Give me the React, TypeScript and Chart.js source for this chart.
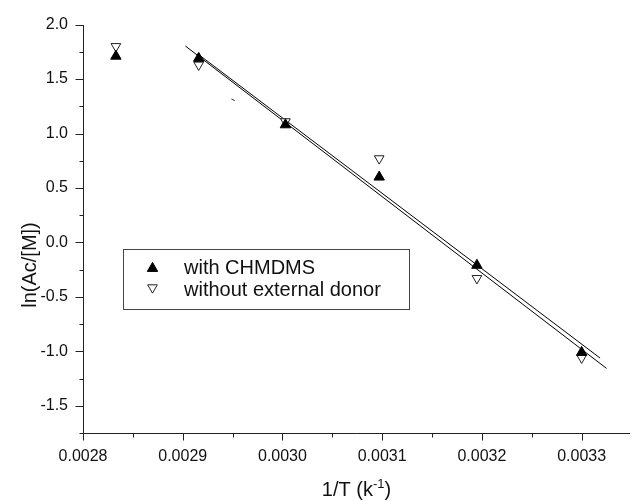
import React, { useEffect, useRef } from 'react';
import { Chart, registerables } from 'chart.js';

Chart.register(...registerables);

// Reciprocal temperature (1/K) of each measurement
const inverseT = [0.002833, 0.002916, 0.003003, 0.003097, 0.003195, 0.0033];
// ln(Ac/[M]) for the two catalyst systems
const withCHMDMS = [1.71, 1.69, 1.08, 0.6, -0.21, -1.01];
const withoutDonor = [1.8, 1.63, 1.11, 0.77, -0.33, -1.06];

// Linear-fit lines (end points)
const fitAX = [0.0029027, 0.003325];
const fitAY = [1.803, -1.157];
const fitBX = [0.0029158, 0.0033185];
const fitBY = [1.726, -1.062];

// Short stray stroke left in the plot
const dashX = [0.0029488, 0.0029522];
const dashY = [1.316, 1.302];

const seriesLabels = ['with CHMDMS', 'without external donor'];
const xTickLabels = ['0.0028', '0.0029', '0.0030', '0.0031', '0.0032', '0.0033'];
const yTickLabels = ['-1.5', '-1.0', '-0.5', '0.0', '0.5', '1.0', '1.5', '2.0'];
const xTitle = '1/T (k';
const xTitleSup = '-1';
const xTitleEnd = ')';
const yTitle = 'ln(Ac/[M])';

const X_MIN = 0.0028;
const X_MAX = 0.0033485;
const X_MAJOR = 0.0001;
const X_MINOR = 0.00005;
const Y_MIN = -1.75;
const Y_MAX = 2.0;
const Y_MAJOR = 0.5;
const Y_MINOR = 0.25;

const FONT = '"Liberation Sans", Arial, Helvetica, sans-serif';
const INK = '#111';
const FILLED_R = 6;
const OPEN_R = 5.6;

const isMultiple = (v: number, step: number) =>
  Math.abs(v / step - Math.round(v / step)) < 1e-6;

function triangle(ctx: CanvasRenderingContext2D, x: number, y: number, r: number, down: boolean) {
  const s = down ? -1 : 1;
  ctx.beginPath();
  ctx.moveTo(x, y - s * r);
  ctx.lineTo(x + 0.866 * r, y + s * 0.5 * r);
  ctx.lineTo(x - 0.866 * r, y + s * 0.5 * r);
  ctx.closePath();
}

const axesPlugin = {
  id: 'originAxes',
  afterDraw(chart: any) {
    const ctx: CanvasRenderingContext2D = chart.ctx;
    const xs = chart.scales.x;
    const ys = chart.scales.y;
    const { left, right, top, bottom } = chart.chartArea;
    const L = Math.round(left) + 0.5;
    const B = Math.round(bottom) + 0.5;
    ctx.save();
    ctx.strokeStyle = '#222';
    ctx.lineWidth = 1;
    ctx.beginPath();
    ctx.moveTo(L, Math.round(top));
    ctx.lineTo(L, B);
    ctx.lineTo(right, B);
    // x tick marks (outward, downward)
    xs.ticks.forEach((t: any) => {
      const px = Math.round(xs.getPixelForValue(t.value)) + 0.5;
      const len = t.label ? 7 : 4;
      ctx.moveTo(px, B);
      ctx.lineTo(px, B + len);
    });
    // y tick marks (outward, to the left)
    ys.ticks.forEach((t: any) => {
      const py = Math.round(ys.getPixelForValue(t.value)) + 0.5;
      const len = t.label ? 8 : 4;
      ctx.moveTo(L, py);
      ctx.lineTo(L - len, py);
    });
    ctx.stroke();

    // axis titles
    ctx.fillStyle = INK;
    ctx.textBaseline = 'alphabetic';
    ctx.font = `20px ${FONT}`;
    const w1 = ctx.measureText(xTitle).width;
    const w3 = ctx.measureText(xTitleEnd).width;
    ctx.font = `13px ${FONT}`;
    const w2 = ctx.measureText(xTitleSup).width;
    const total = w1 + w2 + w3;
    const cx = (left + right) / 2;
    let tx = cx - total / 2;
    const baseY = 496;
    ctx.font = `20px ${FONT}`;
    ctx.textAlign = 'left';
    ctx.fillText(xTitle, tx, baseY);
    tx += w1;
    ctx.font = `13px ${FONT}`;
    ctx.fillText(xTitleSup, tx, baseY - 8);
    tx += w2;
    ctx.font = `20px ${FONT}`;
    ctx.fillText(xTitleEnd, tx, baseY);

    ctx.save();
    ctx.translate(30, 265);
    ctx.rotate(-Math.PI / 2);
    ctx.textAlign = 'center';
    ctx.textBaseline = 'middle';
    ctx.font = `20px ${FONT}`;
    ctx.fillText(yTitle, 0, 0);
    ctx.restore();

    // legend box
    ctx.strokeStyle = '#444';
    ctx.lineWidth = 1;
    ctx.strokeRect(123.5, 249.5, 286, 60);
    const rows = [
      { y: 267, down: false, fill: '#000', stroke: '#000', r: FILLED_R },
      { y: 289, down: true, fill: '#fff', stroke: '#222', r: OPEN_R },
    ];
    rows.forEach((row, i) => {
      const cy = row.y + (row.down ? -1.4 : 1.4);
      triangle(ctx, 152.5, cy, row.r, row.down);
      ctx.fillStyle = row.fill;
      ctx.fill();
      ctx.strokeStyle = row.stroke;
      ctx.stroke();
      ctx.fillStyle = INK;
      ctx.font = `20px ${FONT}`;
      ctx.textAlign = 'left';
      ctx.textBaseline = 'middle';
      ctx.fillText(seriesLabels[i], 184, row.y + 1);
    });
    ctx.restore();
  },
};

export default function App() {
  const ref = useRef<HTMLCanvasElement>(null);

  useEffect(() => {
    document.body.style.margin = '0';
    const canvas = ref.current;
    if (!canvas) return;
    const pts = (xs: number[], ys: number[]) => xs.map((x, i) => ({ x, y: ys[i] }));

    const chart = new Chart(canvas, {
      type: 'scatter',
      data: {
        datasets: [
          {
            label: seriesLabels[0],
            data: pts(inverseT, withCHMDMS),
            pointStyle: 'triangle',
            pointRadius: FILLED_R,
            backgroundColor: '#000',
            borderColor: '#000',
            borderWidth: 1,
            showLine: false,
          },
          {
            label: seriesLabels[1],
            data: pts(inverseT, withoutDonor),
            pointStyle: 'triangle',
            pointRotation: 180,
            pointRadius: OPEN_R,
            backgroundColor: '#fff',
            borderColor: '#222',
            borderWidth: 1,
            showLine: false,
          },
          {
            label: 'fit A',
            data: pts(fitAX, fitAY),
            showLine: true,
            borderColor: '#000',
            borderWidth: 1,
            pointRadius: 0,
          },
          {
            label: 'fit B',
            data: pts(fitBX, fitBY),
            showLine: true,
            borderColor: '#000',
            borderWidth: 1,
            pointRadius: 0,
          },
          {
            label: 'dash',
            data: pts(dashX, dashY),
            showLine: true,
            borderColor: '#333',
            borderWidth: 1,
            pointRadius: 0,
          },
        ],
      } as any,
      options: {
        animation: false,
        responsive: false,
        events: [],
        layout: { padding: { top: 22, right: 0, left: 0, bottom: 0 } },
        plugins: {
          legend: { display: false },
          tooltip: { enabled: false },
        },
        scales: {
          x: {
            type: 'linear',
            min: X_MIN,
            max: X_MAX,
            grid: { display: false, drawTicks: false },
            border: { display: false },
            afterFit: (s: any) => {
              s.height = 68;
            },
            ticks: {
              stepSize: X_MINOR,
              includeBounds: false,
              autoSkip: false,
              maxRotation: 0,
              minRotation: 0,
              padding: 14,
              color: INK,
              font: { family: FONT, size: 16 },
              callback: (v: any) => {
                const val = Number(v);
                if (!isMultiple(val, X_MAJOR)) return '';
                const idx = Math.round((val - X_MIN) / X_MAJOR);
                return xTickLabels[idx] ?? '';
              },
            },
          },
          y: {
            type: 'linear',
            min: Y_MIN,
            max: Y_MAX,
            grid: { display: false, drawTicks: false },
            border: { display: false },
            afterFit: (s: any) => {
              s.width = 83;
            },
            ticks: {
              stepSize: Y_MINOR,
              autoSkip: false,
              padding: 15,
              color: INK,
              font: { family: FONT, size: 16 },
              callback: (v: any) => {
                const val = Number(v);
                if (!isMultiple(val, Y_MAJOR)) return '';
                const idx = Math.round((val - -1.5) / Y_MAJOR);
                return yTickLabels[idx] ?? '';
              },
            },
          },
        },
      },
      plugins: [axesPlugin],
    });
    return () => chart.destroy();
  }, []);

  return (
    <div style={{ width: 637, height: 501, background: '#fff' }}>
      <canvas ref={ref} width={637} height={501} style={{ display: 'block' }} />
    </div>
  );
}
